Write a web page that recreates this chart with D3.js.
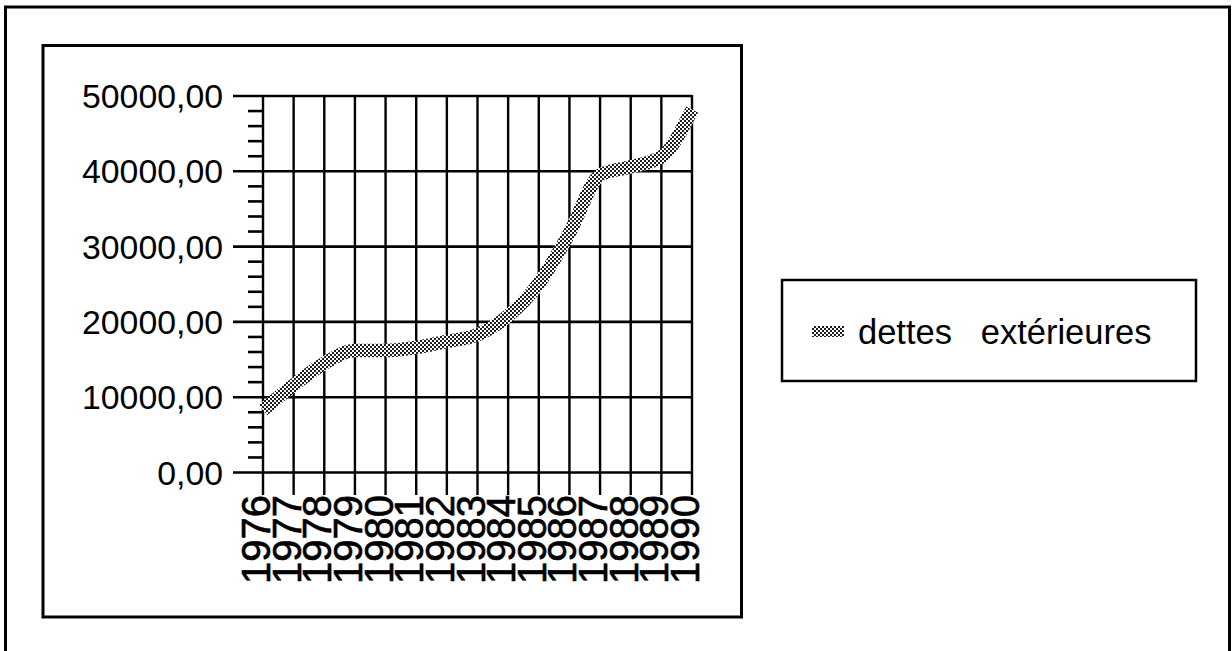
<!DOCTYPE html>
<html>
<head>
<meta charset="utf-8">
<script src="https://cdn.jsdelivr.net/npm/d3@7"></script>
<style>
  html, body { margin: 0; padding: 0; background: #fff; }
  svg { display: block; font-family: "Liberation Sans", Arial, Helvetica, sans-serif; }
</style>
</head>
<body>
<svg id="chart" width="1232" height="651"></svg>
<script>
// Dette extérieure, 1976–1990
const years = [1976, 1977, 1978, 1979, 1980, 1981, 1982, 1983, 1984, 1985, 1986, 1987, 1988, 1989, 1990];
const dettesExterieures = [8300, 11600, 14500, 16200, 16200, 16600, 17400, 18300, 20800, 25100, 31800, 39500, 40600, 41900, 48200];
const yTicks = [0, 10000, 20000, 30000, 40000, 50000];
const seriesName = "dettes   extérieures";

const svg = d3.select("#chart");

// stippled fill used by the line and the legend key
const defs = svg.append("defs");
const pat = defs.append("pattern")
  .attr("id", "stipple")
  .attr("patternUnits", "userSpaceOnUse")
  .attr("width", 4).attr("height", 4);
pat.append("rect").attr("width", 4).attr("height", 4).attr("fill", "#fff");
pat.append("rect").attr("x", 0).attr("y", 0).attr("width", 2).attr("height", 2).attr("fill", "#1e1e1e");
pat.append("rect").attr("x", 2).attr("y", 2).attr("width", 2).attr("height", 2).attr("fill", "#1e1e1e");

// outer and inner frames
svg.append("rect").attr("x", 5.5).attr("y", 7).attr("width", 1224).attr("height", 660)
  .attr("fill", "none").attr("stroke", "#000").attr("stroke-width", 3);
svg.append("rect").attr("x", 43).attr("y", 45.5).attr("width", 698.5).attr("height", 571.5)
  .attr("fill", "none").attr("stroke", "#000").attr("stroke-width", 3);

const x = d3.scalePoint().domain(years).range([263, 692]);
const y = d3.scaleLinear().domain([0, 50000]).range([472.5, 96]);

const fmt = d3.formatLocale({ decimal: ",", thousands: "", grouping: [3], currency: ["", ""] }).format(".2f");

// horizontal grid at major ticks, extending out as the major tick marks
svg.append("g").selectAll("line").data(yTicks).join("line")
  .attr("x1", 233).attr("x2", x(years[years.length - 1]))
  .attr("y1", d => y(d)).attr("y2", d => y(d))
  .attr("stroke", "#000").attr("stroke-width", 2.6);

// minor ticks every 2000
const minor = d3.range(0, 50001, 2000).filter(v => v % 10000 !== 0);
svg.append("g").selectAll("line").data(minor).join("line")
  .attr("x1", 248).attr("x2", 263)
  .attr("y1", d => y(d)).attr("y2", d => y(d))
  .attr("stroke", "#000").attr("stroke-width", 2.6);

// vertical grid per year, continuing below the axis as tick marks
svg.append("g").selectAll("line").data(years).join("line")
  .attr("x1", d => x(d)).attr("x2", d => x(d))
  .attr("y1", y(50000) - 1).attr("y2", 495)
  .attr("stroke", "#000").attr("stroke-width", 2.4);

// y tick labels
svg.append("g").selectAll("text").data(yTicks).join("text")
  .attr("x", 223).attr("y", d => y(d)).attr("dy", "0.36em")
  .attr("text-anchor", "end")
  .attr("font-size", 33.8)
  .text(d => fmt(d));

// x tick labels, rotated
svg.append("g").selectAll("text").data(years).join("text")
  .attr("transform", d => `translate(${x(d) + 7},495) rotate(-90)`)
  .attr("text-anchor", "end")
  .attr("font-size", 40)
  .attr("stroke", "#000").attr("stroke-width", 0.6)
  .text(d => d);

// series line
const line = d3.line()
  .x((d, i) => x(years[i]))
  .y(d => y(d))
  .curve(d3.curveMonotoneX);
svg.append("path")
  .datum(dettesExterieures)
  .attr("d", line)
  .attr("fill", "none")
  .attr("stroke", "url(#stipple)")
  .attr("stroke-width", 13.5)
  .attr("stroke-linecap", "butt");

// legend
const lg = svg.append("g");
lg.append("rect").attr("x", 782).attr("y", 280).attr("width", 414).attr("height", 101)
  .attr("fill", "#fff").attr("stroke", "#000").attr("stroke-width", 2.5);
lg.append("rect").attr("x", 812).attr("y", 326).attr("width", 32).attr("height", 11)
  .attr("fill", "url(#stipple)");
lg.append("text").attr("x", 858).attr("y", 344)
  .attr("font-size", 34.5)
  .attr("xml:space", "preserve")
  .style("white-space", "pre")
  .text(seriesName);
</script>
</body>
</html>
